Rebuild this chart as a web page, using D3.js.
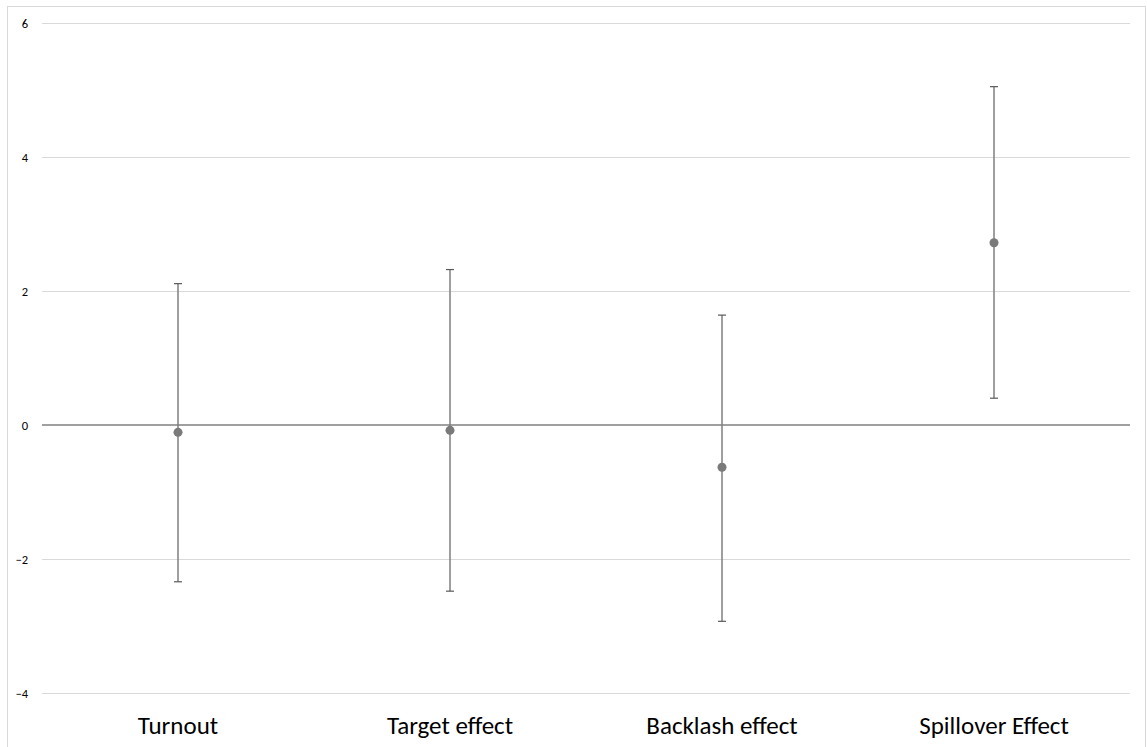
<!DOCTYPE html>
<html><head><meta charset="utf-8">
<script src="https://cdn.jsdelivr.net/npm/d3@7"></script>
<style>body{margin:0;background:#fff;} svg{display:block;}</style>
</head><body>
<svg id="chart" width="1147" height="747"></svg>
<script>
const categories = ["Turnout", "Target effect", "Backlash effect", "Spillover Effect"];
const estimates = [-0.11, -0.08, -0.63, 2.72];
const upper = [2.11, 2.32, 1.64, 5.05];
const lower = [-2.34, -2.48, -2.93, 0.40];
const yTicks = [-4, -2, 0, 2, 4, 6];

const svg = d3.select("#chart");
const W = 1147, H = 747;
const m = {left: 42, right: 17, top: 23, bottom: 54};
const font = "Carlito, Calibri, Lato, 'Open Sans', sans-serif";

// chart border
svg.append("rect").attr("x", 7.5).attr("y", 6.5).attr("width", 1138).attr("height", 760)
  .attr("fill", "#fff").attr("stroke", "#d9d9d9").attr("stroke-width", 1);

const x = d3.scaleBand().domain(categories).range([m.left, W - m.right]);
const y = d3.scaleLinear().domain([-4, 6]).range([H - m.bottom, m.top]);

// gridlines
svg.append("g").selectAll("line").data(yTicks.filter(t => t !== 0)).join("line")
  .attr("x1", m.left).attr("x2", W - m.right)
  .attr("y1", d => Math.round(y(d)) + 0.5).attr("y2", d => Math.round(y(d)) + 0.5)
  .attr("stroke", "#d9d9d9").attr("stroke-width", 1);

// y tick labels via axis
const yAxis = svg.append("g").attr("transform", `translate(${m.left},0)`)
  .call(d3.axisLeft(y).tickValues(yTicks).tickSize(0).tickPadding(14));
yAxis.select(".domain").remove();
yAxis.selectAll("text").attr("font-family", font).attr("font-size", 12.5).attr("fill", "#000");

// zero line
svg.append("line").attr("x1", m.left).attr("x2", W - m.right)
  .attr("y1", y(0)).attr("y2", y(0)).attr("stroke", "#808080").attr("stroke-width", 1.5);

// x category labels via axis
const xAxis = svg.append("g").attr("transform", `translate(0,${H - m.bottom})`)
  .call(d3.axisBottom(x).tickSize(0).tickPadding(23));
xAxis.select(".domain").remove();
xAxis.selectAll("text").attr("font-family", font).attr("font-size", 25).attr("fill", "#000");

const cx = d => x(d) + x.bandwidth() / 2;
const data = categories.map((c, i) => ({c, est: estimates[i], hi: upper[i], lo: lower[i]}));

const g = svg.append("g");
g.selectAll("line.bar").data(data).join("line").attr("class", "bar")
  .attr("x1", d => cx(d.c)).attr("x2", d => cx(d.c))
  .attr("y1", d => y(d.hi)).attr("y2", d => y(d.lo))
  .attr("stroke", "#7f7f7f").attr("stroke-width", 1.5);
g.selectAll("line.capHi").data(data).join("line").attr("class", "capHi")
  .attr("x1", d => cx(d.c) - 4).attr("x2", d => cx(d.c) + 4)
  .attr("y1", d => y(d.hi)).attr("y2", d => y(d.hi))
  .attr("stroke", "#595959").attr("stroke-width", 1.2);
g.selectAll("line.capLo").data(data).join("line").attr("class", "capLo")
  .attr("x1", d => cx(d.c) - 4).attr("x2", d => cx(d.c) + 4)
  .attr("y1", d => y(d.lo)).attr("y2", d => y(d.lo))
  .attr("stroke", "#595959").attr("stroke-width", 1.2);
g.selectAll("circle").data(data).join("circle")
  .attr("cx", d => cx(d.c)).attr("cy", d => y(d.est)).attr("r", 4.5)
  .attr("fill", "#7a7a7a");
</script>
</body></html>
